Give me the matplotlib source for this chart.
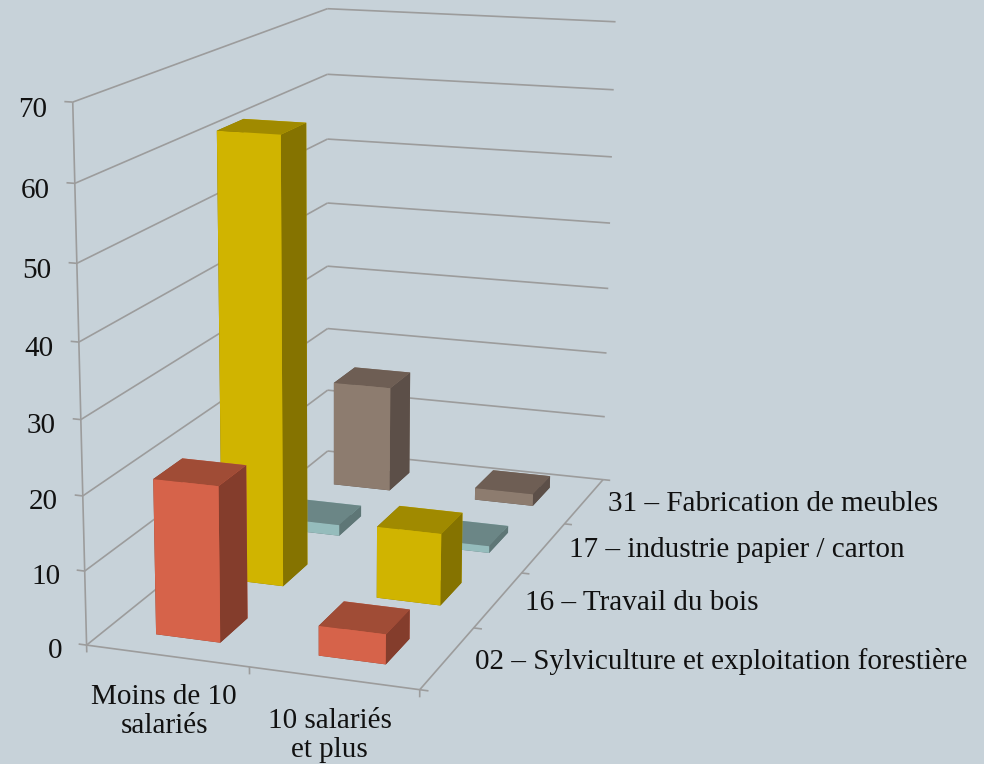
import numpy as np
import matplotlib
matplotlib.use("Agg")
import matplotlib.pyplot as plt
from mpl_toolkits.mplot3d import Axes3D  # noqa
from mpl_toolkits.mplot3d.art3d import Line3DCollection

# ---- data ----
categories = ["Moins de 10\nsalariés", "10 salariés\net plus"]
series = ["02 – Sylviculture et exploitation forestière",
          "16 – Travail du bois",
          "17 – industrie papier / carton",
          "31 – Fabrication de meubles"]
sylviculture = [21, 4]
travail_bois = [62, 10]
papier_carton = [1.6, 1]
meubles = [16, 1.8]
z_ticks = [0, 10, 20, 30, 40, 50, 60, 70]

# face colours: bottom, top, front, back, left, right
palette = [
    ("#843D2C", "#A04C36", "#D6634A", "#D6634A", "#843D2C", "#843D2C"),
    ("#857300", "#A08A00", "#D0B400", "#D0B400", "#857300", "#857300"),
    ("#5E7676", "#6B8686", "#95BCBC", "#95BCBC", "#5E7676", "#5E7676"),
    ("#5C4F48", "#6E5E54", "#8D7C6F", "#8D7C6F", "#5C4F48", "#5C4F48"),
]
BG = "#C7D2D9"
LINE = "#9C9C9C"
INK = "#111111"
FONT = "Liberation Serif"
FS = 21
W_PX, H_PX = 984, 764

# ---- camera calibration: data-space reference -> canvas pixel ----
world = np.array([(0, 0, 0), (2, 0, 0), (2, 4, 0), (0, 4, 0), (0, 0, 70), (0, 4, 70), (2, 4, 70),
                  (0, 0, 60), (0, 4, 60), (2, 4, 10), (1, 0, 0), (2, 1, 0), (2, 2, 0), (2, 3, 0)], float)
pixel = np.array([(87, 645), (419, 689), (603, 479), (328, 451), (73, 102), (327, 9), (616, 22),
                  (75, 183), (327, 74), (605, 417), (249, 668), (474, 628), (522, 573), (564, 524)], float)


def solve_camera(w, p):
    scale_w = np.array([2.0, 4.0, 70.0])
    W = w / scale_w
    q = p / 1000.0
    rows = []
    for (X, Y, Z), (u, v) in zip(W, q):
        rows.append([X, Y, Z, 1, 0, 0, 0, 0, -u * X, -u * Y, -u * Z, -u])
        rows.append([0, 0, 0, 0, X, Y, Z, 1, -v * X, -v * Y, -v * Z, -v])
    _, _, vt = np.linalg.svd(np.array(rows))
    P = vt[-1].reshape(3, 4)
    if P[2] @ np.array([0, 0, 0, 1.0]) < 0:
        P = -P
    P[0] *= 1000
    P[1] *= 1000
    P[:, :3] = P[:, :3] / scale_w
    return P


P = solve_camera(world, pixel)
M = np.vstack([P[0], P[1], [0, 0, 0, -1.0], P[2]])

fig = plt.figure(figsize=(W_PX / 100, H_PX / 100), dpi=100, facecolor=BG)
ax = fig.add_axes([0, 0, 1, 1], projection="3d", facecolor=BG)
ax.apply_aspect = lambda position=None: None
ax.get_proj = lambda: M
ax.computed_zorder = False
ax.set_axis_off()


def label(x, y, z, s, dx=0, **kw):
    """Place real text at the canvas position of data point (x, y, z)."""
    h = P @ np.array([x, y, z, 1.0])
    fig.text((h[0] / h[2] + dx) / W_PX, 1 - (h[1] / h[2]) / H_PX, s, family=FONT, fontsize=FS, color=INK, **kw)


segments = []


def line(xs, ys, zs):
    pts = list(zip(xs, ys, zs))
    segments.extend([pts[i], pts[i + 1]] for i in range(len(pts) - 1))


# gridlines and frame
for z in z_ticks:
    line([0, 0, 2], [0, 4, 4], [z, z, z])
    line([0, -0.05], [0, 0], [z, z])
    label(-0.155, 0, z - 1.2, str(z), ha="right", va="center")
line([0, 0], [0, 0], [0, 70])
line([0, 2, 2], [0, 0, 4], [0, 0, 0])
for xt in [0, 1, 2]:
    line([xt, xt], [0, 0], [0, -1])
for yt in range(5):
    line([2, 2.05], [yt, yt], [0, 0])
ax.add_collection3d(Line3DCollection(segments, colors=LINE, linewidths=1.2, zorder=1), autolim=False)

# bars, back to front
all_values = [sylviculture, travail_bois, papier_carton, meubles]
for s in reversed(range(len(all_values))):
    for c, v in enumerate(all_values[s]):
        ax.bar3d(c + 0.305, s + 0.29, 0, 0.40, 0.42, v, color=palette[s], shade=False,
                 edgecolor="none", zorder=2 + (3 - s))

# labels
for c, name in enumerate(categories):
    label(c + 0.5, 0, -7.6, name, dx=-4, ha="center", va="center", linespacing=1.15, multialignment="center")
for s, name in enumerate(series):
    label(2.15, s + 0.5, 0, name, dx=2, ha="left", va="center")

ax.viewLim.intervalx = (0, W_PX)
ax.viewLim.intervaly = (H_PX, 0)
fig.savefig("out.png", dpi=100, facecolor=BG)
